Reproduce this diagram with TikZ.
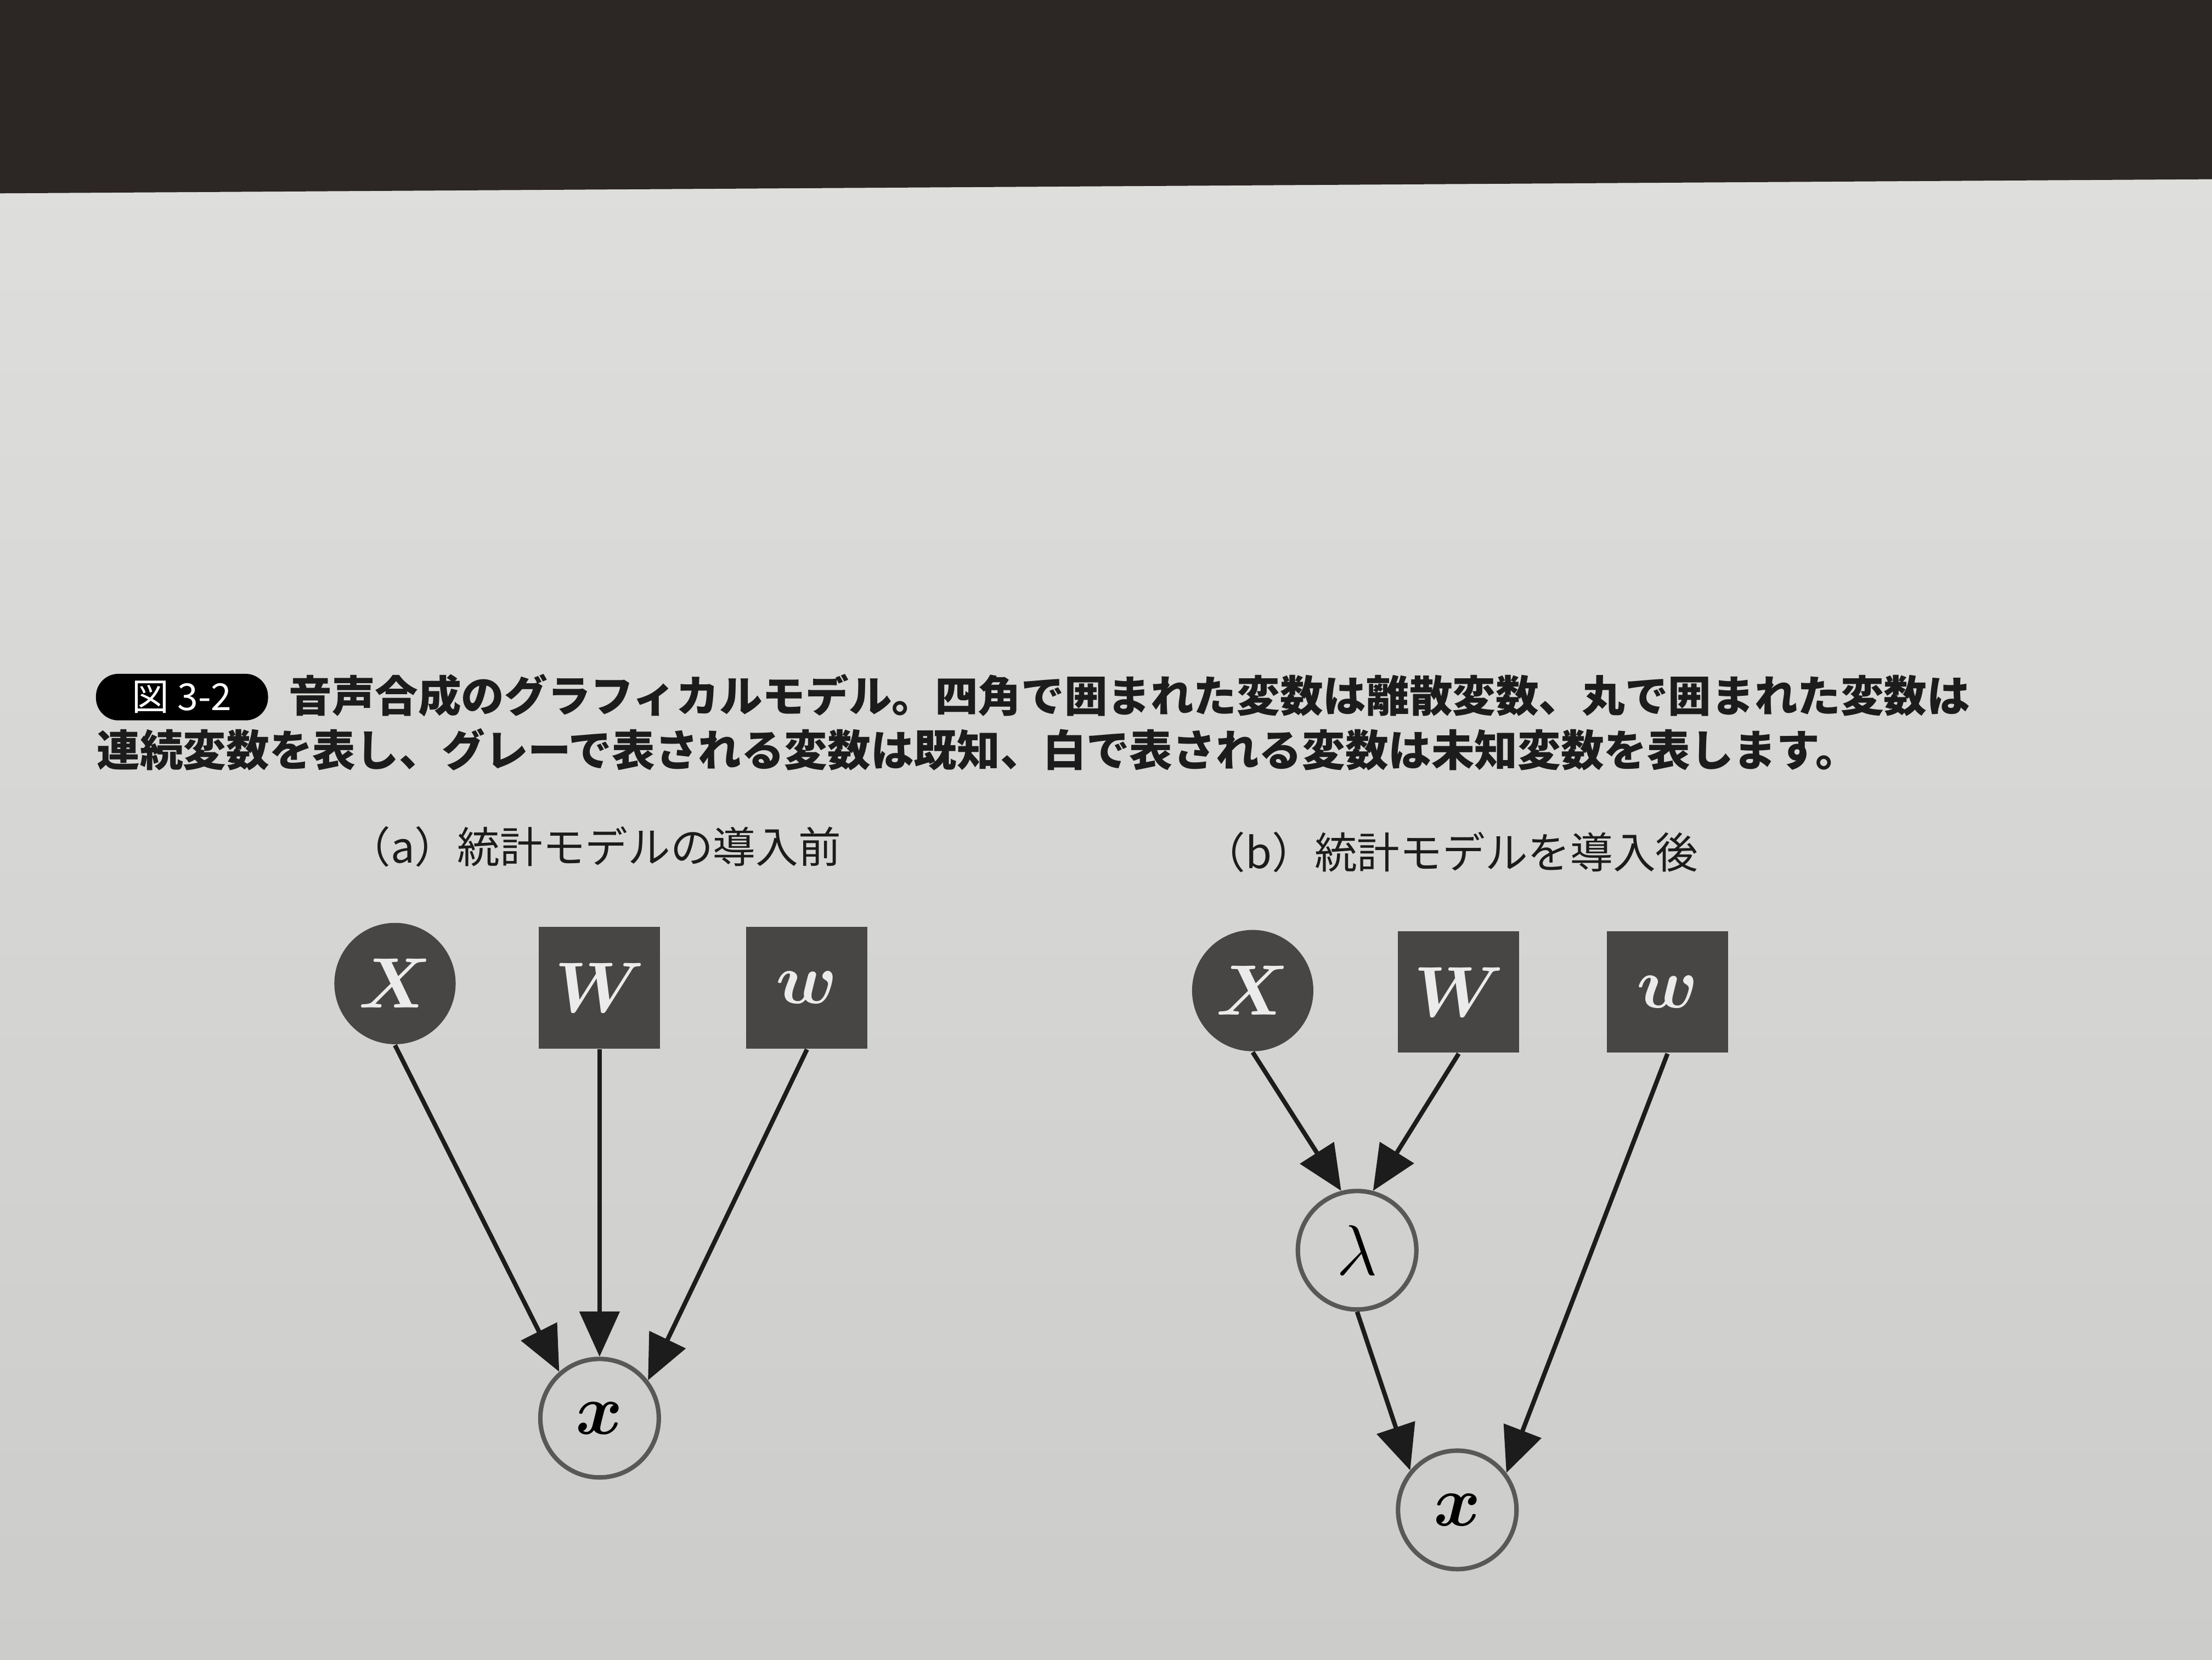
\documentclass[tikz,border=0pt]{standalone}
\usepackage{amsmath,amssymb}
\usepackage{fontspec}
\newfontfamily\jp{Noto Sans CJK JP}
\usetikzlibrary{arrows.meta}
\definecolor{pagetop}{RGB}{224,225,222}
\definecolor{pagebot}{RGB}{204,205,202}
\definecolor{bandgray}{RGB}{44,38,36}
\definecolor{nodegray}{RGB}{72,70,68}
\definecolor{rimgray}{RGB}{88,88,86}
\definecolor{inkblack}{RGB}{28,28,28}

\begin{document}
\begin{tikzpicture}[x=0.1mm,y=-0.1mm,>={Triangle[length=3.2mm,width=2.8mm]},
  every node/.style={font=\fontsize{13.5}{15}\selectfont},
  known/.style={fill=nodegray,text=white!92!black,inner sep=0pt,minimum size=8.6mm},
  obs/.style={circle,known},
  disc/.style={rectangle,known},
  unk/.style={circle,draw=rimgray,line width=0.9pt,inner sep=0pt,minimum size=8.4mm},
  edge/.style={->,draw=inkblack,line width=0.9pt},
  captext/.style={anchor=west,inner sep=0pt,text=inkblack,font=\jp\bfseries\fontsize{8.7}{10}\selectfont},
  subtext/.style={anchor=west,inner sep=0pt,text=inkblack,font=\jp\fontsize{8.6}{10}\selectfont}]
  \useasboundingbox (0,0) rectangle (1568,1176);
  \shade[top color=pagetop,bottom color=pagebot] (0,0) rectangle (1568,1176);
  \fill[bandgray] (0,0) -- (1568,0) -- (1568,127) -- (0,137) -- cycle;

  % caption
  \node[fill=black,rounded corners=1.6mm,text=white,minimum width=12.2mm,minimum height=3.3mm,
    inner sep=0pt,font=\jp\fontsize{7.5}{9}\selectfont] (fig) at (129,494) {図 3-2};
  \node[captext] (cap1) at (204,493) {音声合成のグラフィカルモデル。四角で囲まれた変数は離散変数、丸で囲まれた変数は};
  \node[captext] (cap2) at (68,531) {連続変数を表し、グレーで表される変数は既知、白で表される変数は未知変数を表します。};

  % (a)
  \node[subtext] (suba) at (246,600) {（a）統計モデルの導入前};
  \node[obs] (Xa) at (280,697) {$\boldsymbol{X}$};
  \node[disc] (Wa) at (425,700) {$\boldsymbol{W}$};
  \node[disc] (wa) at (572,700) {$\boldsymbol{w}$};
  \node[unk] (xa) at (425,1005) {$\boldsymbol{x}$};

  \draw[edge] (Xa.south) -- (xa.131);
  \draw[edge] (Wa.south) -- (xa.north);
  \draw[edge] (wa.south) -- (xa.38);

  % (b)
  \node[subtext] (subb) at (852,604) {（b）統計モデルを導入後};
  \node[obs] (Xb) at (888,702) {$\boldsymbol{X}$};
  \node[disc] (Wb) at (1034,703) {$\boldsymbol{W}$};
  \node[disc] (wb) at (1182,703) {$\boldsymbol{w}$};
  \node[unk] (lb) at (962,886) {$\lambda$};
  \node[unk] (xb) at (1033,1070) {$\boldsymbol{x}$};

  \draw[edge] (Xb.south) -- (lb.105);
  \draw[edge] (Wb.south) -- (lb.75);
  \draw[edge] (lb.south) -- (xb.140);
  \draw[edge] (wb.south) -- (xb.37);
\end{tikzpicture}
\end{document}
